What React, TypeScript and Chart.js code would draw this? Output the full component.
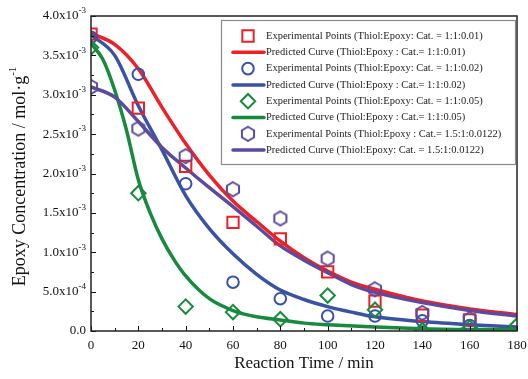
import React, { useEffect, useRef } from 'react';
import { Chart, registerables } from 'chart.js';
import { drawPoint } from 'chart.js/helpers';

Chart.register(...registerables);

const FONT = '"Liberation Serif", "Times New Roman", serif';

// Experimental points (concentration in units of 1e-3 mol/g)
const pointTimes = [0, 20, 40, 60, 80, 100, 120, 140, 160];
const redPoints = [3.77, 2.83, 2.09, 1.38, 1.17, 0.75, 0.38, 0.2, 0.14];
const bluePoints = [3.73, 3.26, 1.87, 0.62, 0.41, 0.19, 0.19, 0.13, 0.07];
const greenPointTimes = [0, 20, 40, 60, 80, 100, 120, 140, 160, 180];
const greenPoints = [3.6, 1.75, 0.31, 0.24, 0.15, 0.45, 0.27, 0.01, 0.04, 0.07];
const purplePoints = [3.1, 2.57, 2.22, 1.8, 1.43, 0.92, 0.53, 0.23, 0.15];

// Predicted curves
const curveTimes = [0, 10, 20, 30, 40, 50, 60, 70, 80, 90, 100, 110, 120, 140, 160, 180];
const redCurve = [3.78, 3.64, 3.33, 2.84, 2.38, 1.98, 1.65, 1.39, 1.14, 0.93, 0.76, 0.62, 0.53, 0.38, 0.28, 0.21];
const blueCurve = [3.76, 3.5, 2.86, 2.3, 1.72, 1.3, 0.98, 0.72, 0.52, 0.4, 0.31, 0.24, 0.18, 0.12, 0.08, 0.05];
const greenCurveTimes = [0, 5, 10, 15, 20, 25, 30, 35, 40, 50, 60, 70, 80, 90, 100, 120, 140, 160, 180];
const greenCurve = [3.65, 3.45, 3.06, 2.55, 1.92, 1.5, 1.17, 0.91, 0.7, 0.41, 0.26, 0.18, 0.14, 0.1, 0.08, 0.05, 0.03, 0.02, 0.02];
const purpleCurve = [3.1, 2.97, 2.66, 2.33, 2.07, 1.82, 1.58, 1.33, 1.08, 0.9, 0.74, 0.59, 0.49, 0.36, 0.26, 0.19];

// Legend labels
const legendLabels = [
  'Experimental Points (Thiol:Epoxy: Cat. = 1:1:0.01)',
  'Predicted Curve (Thiol:Epoxy : Cat.= 1:1:0.01)',
  'Experimental Points (Thiol:Epoxy: Cat. = 1:1:0.02)',
  'Predicted Curve (Thiol:Epoxy : Cat.= 1:1:0.02)',
  'Experimental Points (Thiol:Epoxy: Cat. = 1:1:0.05)',
  'Predicted Curve (Thiol:Epoxy : Cat.= 1:1:0.05)',
  'Experimental Points (Thiol:Epoxy : Cat.= 1.5:1:0.0122)',
  'Predicted Curve (Thiol:Epoxy: Cat. = 1.5:1:0.0122)',
];

// Tick labels
const xTickValues = [0, 20, 40, 60, 80, 100, 120, 140, 160, 180];
const xTickLabels = ['0', '20', '40', '60', '80', '100', '120', '140', '160', '180'];
const yTickValues = [0, 0.5, 1, 1.5, 2, 2.5, 3, 3.5, 4];
const yTickMantissas = ['0.0', '5.0x10', '1.0x10', '1.5x10', '2.0x10', '2.5x10', '3.0x10', '3.5x10', '4.0x10'];
const yTickExponents = ['', '-4', '-3', '-3', '-3', '-3', '-3', '-3', '-3'];

const xTitle = 'Reaction Time / min';
const yTitleMain = 'Epoxy Concentration / mol\u00b7g';
const yTitleExp = '-1';

const RED = '#ee1f26';
const BLUE = '#3a52a3';
const GREEN = '#178a3d';
const PURPLE = '#5c4a9e';

function makeHexagon(color: string, r: number, lw: number) {
  const size = Math.ceil(2 * r + lw + 2);
  const c = document.createElement('canvas');
  c.width = size;
  c.height = size;
  const g = c.getContext('2d')!;
  g.strokeStyle = color;
  g.lineWidth = lw;
  g.beginPath();
  for (let i = 0; i < 6; i++) {
    const ang = -Math.PI / 2 + (i * Math.PI) / 3;
    const px = size / 2 + r * Math.cos(ang);
    const py = size / 2 + r * Math.sin(ang);
    if (i === 0) g.moveTo(px, py);
    else g.lineTo(px, py);
  }
  g.closePath();
  g.stroke();
  return c;
}

const decorPlugin = {
  id: 'decor',
  afterDraw(chart: any) {
    const { ctx, chartArea: a, scales } = chart;
    const x = scales.x;
    const y = scales.y;
    ctx.save();
    ctx.strokeStyle = '#111';
    ctx.lineWidth = 1;
    // inner ticks
    x.ticks.forEach((t: any) => {
      const px = Math.round(x.getPixelForValue(t.value)) + 0.5;
      const len = Math.abs(t.value % 20) < 1e-9 ? 5 : 3;
      ctx.beginPath();
      ctx.moveTo(px, a.bottom);
      ctx.lineTo(px, a.bottom - len);
      ctx.stroke();
    });
    y.ticks.forEach((t: any) => {
      const py = Math.round(y.getPixelForValue(t.value)) + 0.5;
      const major = Math.abs(t.value * 2 - Math.round(t.value * 2)) < 1e-9;
      const len = major ? 5 : 3;
      ctx.beginPath();
      ctx.moveTo(a.left, py);
      ctx.lineTo(a.left + len, py);
      ctx.stroke();
    });
    // frame
    ctx.lineWidth = 1.5;
    ctx.strokeStyle = '#222';
    ctx.strokeRect(a.left, a.top, a.right - a.left, a.bottom - a.top);

    // x tick labels
    ctx.fillStyle = '#111';
    ctx.font = `13px ${FONT}`;
    ctx.textAlign = 'center';
    ctx.textBaseline = 'top';
    xTickValues.forEach((v, i) => {
      ctx.fillText(xTickLabels[i], x.getPixelForValue(v), a.bottom + 8);
    });
    // y tick labels
    yTickValues.forEach((v, i) => {
      const py = y.getPixelForValue(v);
      const right = a.left - 5;
      ctx.font = `9px ${FONT}`;
      const ew = yTickExponents[i] ? ctx.measureText(yTickExponents[i]).width : 0;
      ctx.textAlign = 'left';
      ctx.textBaseline = 'middle';
      if (ew) ctx.fillText(yTickExponents[i], right - ew, py - 5);
      ctx.font = `13px ${FONT}`;
      ctx.textAlign = 'right';
      ctx.fillText(yTickMantissas[i], right - ew, py);
    });
    // x title
    ctx.font = `17px ${FONT}`;
    ctx.textAlign = 'center';
    ctx.textBaseline = 'alphabetic';
    ctx.fillText(xTitle, (a.left + a.right) / 2, a.bottom + 37);
    // y title
    ctx.save();
    ctx.translate(20, (a.top + a.bottom) / 2 + 3);
    ctx.rotate(-Math.PI / 2);
    ctx.font = `18px ${FONT}`;
    const mw = ctx.measureText(yTitleMain).width;
    ctx.font = `11px ${FONT}`;
    const xw = ctx.measureText(yTitleExp).width;
    const start = -(mw + xw) / 2;
    ctx.textAlign = 'left';
    ctx.textBaseline = 'middle';
    ctx.font = `18px ${FONT}`;
    ctx.fillText(yTitleMain, start, 0);
    ctx.font = `11px ${FONT}`;
    ctx.fillText(yTitleExp, start + mw, -7);
    ctx.restore();

    // legend
    const lx = a.left + 130;
    const ly = a.top + 4;
    const lw = a.right - 2 - lx;
    const lh = 144;
    ctx.fillStyle = '#fff';
    ctx.fillRect(lx, ly, lw, lh);
    ctx.strokeStyle = '#8a8a8a';
    ctx.lineWidth = 1.2;
    ctx.strokeRect(lx + 0.5, ly + 0.5, lw, lh);
    const rowH = 16.3;
    chart.data.datasets.forEach((ds: any, i: number) => {
      const cy = ly + 16 + i * rowH;
      if (ds.showLine === false) {
        ctx.save();
        ctx.strokeStyle = ds.borderColor;
        ctx.fillStyle = 'rgba(0,0,0,0)';
        ctx.lineWidth = ds.borderWidth;
        drawPoint(ctx, { pointStyle: ds.pointStyle, radius: ds.pointRadius, rotation: 0, borderWidth: ds.borderWidth } as any, lx + 27, cy);
        ctx.restore();
      } else {
        ctx.strokeStyle = ds.borderColor;
        ctx.lineWidth = ds.borderWidth;
        ctx.lineCap = 'round';
        ctx.beginPath();
        ctx.moveTo(lx + 12, cy);
        ctx.lineTo(lx + 43, cy);
        ctx.stroke();
      }
      ctx.fillStyle = '#222';
      ctx.font = `10.5px ${FONT}`;
      ctx.textAlign = 'left';
      ctx.textBaseline = 'middle';
      ctx.fillText(legendLabels[i], lx + 45, cy);
    });
    ctx.restore();
  },
};

export default function App() {
  const ref = useRef<HTMLCanvasElement>(null);
  useEffect(() => {
    if (!ref.current) return;
    const hex = makeHexagon(PURPLE, 7, 2);
    const pts = (xs: number[], ys: number[]) => xs.map((t, i) => ({ x: t, y: ys[i] }));
    const pointDs = (data: any, color: string, style: any, r: number, order: number) => ({
      type: 'line',
      data,
      showLine: false,
      borderColor: color,
      backgroundColor: 'rgba(0,0,0,0)',
      pointBorderColor: color,
      pointBackgroundColor: 'rgba(0,0,0,0)',
      pointStyle: style,
      pointRadius: r,
      pointBorderWidth: 2,
      borderWidth: 2,
      order,
    });
    const curveDs = (data: any, color: string, order: number) => ({
      type: 'line',
      data,
      borderColor: color,
      backgroundColor: color,
      borderWidth: 3.5,
      pointRadius: 0,
      cubicInterpolationMode: 'monotone',
      fill: false,
      order,
    });
    const chart = new Chart(ref.current, {
      type: 'line',
      data: {
        datasets: [
          pointDs(pts(pointTimes, redPoints), RED, 'rect', 8, 4),
          curveDs(pts(curveTimes, redCurve), RED, 8),
          pointDs(pts(pointTimes, bluePoints), BLUE, 'circle', 5.8, 3),
          curveDs(pts(curveTimes, blueCurve), BLUE, 7),
          pointDs(pts(greenPointTimes, greenPoints), GREEN, 'rectRot', 7.2, 2),
          curveDs(pts(greenCurveTimes, greenCurve), GREEN, 6),
          pointDs(pts(pointTimes, purplePoints), PURPLE, hex, 7, 1),
          curveDs(pts(curveTimes, purpleCurve), PURPLE, 5),
        ] as any,
      },
      options: {
        animation: false,
        responsive: false,
        layout: { padding: { left: 91, right: 11, top: 16, bottom: 48 } },
        plugins: { legend: { display: false }, tooltip: { enabled: false } },
        scales: {
          x: {
            type: 'linear',
            min: 0,
            max: 180,
            ticks: { display: false, stepSize: 10 },
            grid: { display: false },
            border: { display: false },
            afterFit: (s: any) => { s.height = 0; },
          },
          y: {
            type: 'linear',
            min: 0,
            max: 4,
            ticks: { display: false, stepSize: 0.25 },
            grid: { display: false },
            border: { display: false },
            afterFit: (s: any) => { s.width = 0; },
          },
        },
      },
      plugins: [decorPlugin],
    });
    return () => chart.destroy();
  }, []);
  return (
    <div style={{ position: 'fixed', left: 0, top: 0, width: 528, height: 379, background: '#fff' }}>
      <canvas ref={ref} width={528} height={379} />
    </div>
  );
}
